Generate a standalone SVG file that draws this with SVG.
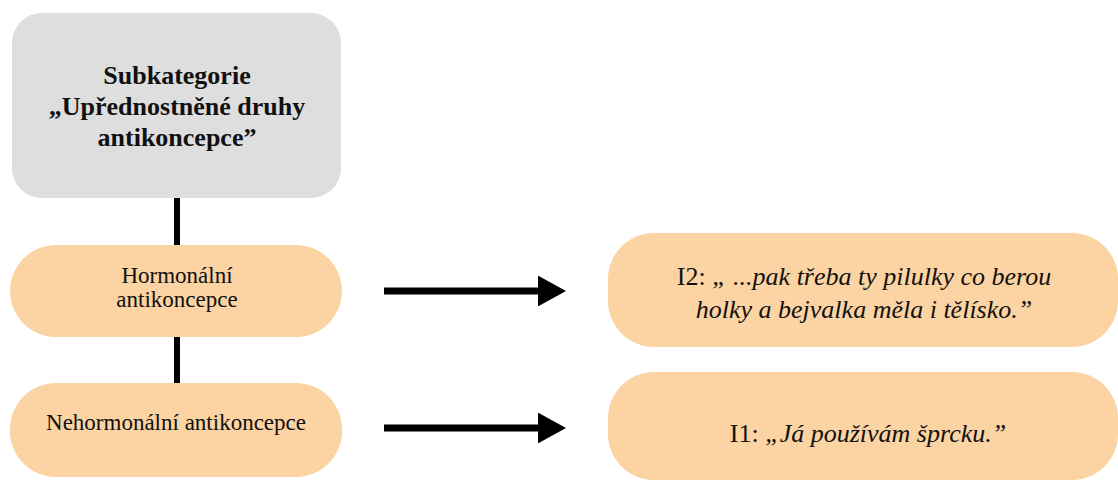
<svg xmlns="http://www.w3.org/2000/svg" width="1118" height="481" viewBox="0 0 1118 481">
<style>
.t{font-family:"Liberation Serif","Times New Roman",serif;fill:#111;text-anchor:middle}
.title{font-size:26px;font-weight:bold}
.cat{font-size:23px}
.q{font-size:26px}
.i{font-style:italic}
.pill{fill:#fcd3a2}
.line{stroke:#000;stroke-width:6;fill:none}
.arr{stroke:#000;stroke-width:7;fill:none}
</style>
<defs>
<marker id="ah" markerWidth="4" markerHeight="4.4" refX="0" refY="2.2" orient="auto" markerUnits="strokeWidth">
<path d="M0,0 L4,2.2 L0,4.4 Z" fill="#000"/>
</marker>
</defs>
<rect width="1118" height="481" fill="#fff"/>
<g id="connectors">
<line class="line" x1="177" y1="196" x2="177" y2="247"/>
<line class="line" x1="177" y1="335" x2="177" y2="385"/>
<line class="arr" x1="384" y1="291" x2="538" y2="291" marker-end="url(#ah)"/>
<line class="arr" x1="384" y1="428" x2="538" y2="428" marker-end="url(#ah)"/>
</g>
<g id="subcategory">
<rect x="12" y="13" width="329" height="185" rx="30" fill="#dedede"/>
<text class="t title" x="177" y="84">Subkategorie</text>
<text class="t title" x="177" y="115">„Upřednostněné druhy</text>
<text class="t title" x="177" y="146">antikoncepce”</text>
</g>
<g id="hormonal">
<rect class="pill" x="10" y="245" width="332" height="92" rx="46"/>
<text class="t cat" x="177" y="283">Hormonální</text>
<text class="t cat" x="177" y="307">antikoncepce</text>
</g>
<g id="nonhormonal">
<rect class="pill" x="10" y="383" width="332" height="94" rx="46"/>
<text class="t cat" x="176" y="430">Nehormonální antikoncepce</text>
</g>
<g id="quote2">
<rect class="pill" x="608" y="233" width="510" height="114" rx="46"/>
<text class="t q" x="864" y="285">I2: <tspan class="i">„ ...pak třeba ty pilulky co berou</tspan></text>
<text class="t q i" x="864" y="318">holky a bejvalka měla i tělísko.”</text>
</g>
<g id="quote1">
<rect class="pill" x="608" y="372" width="510" height="108" rx="46"/>
<text class="t q" x="868" y="442">I1: <tspan class="i">„Já používám šprcku.”</tspan></text>
</g>
</svg>
